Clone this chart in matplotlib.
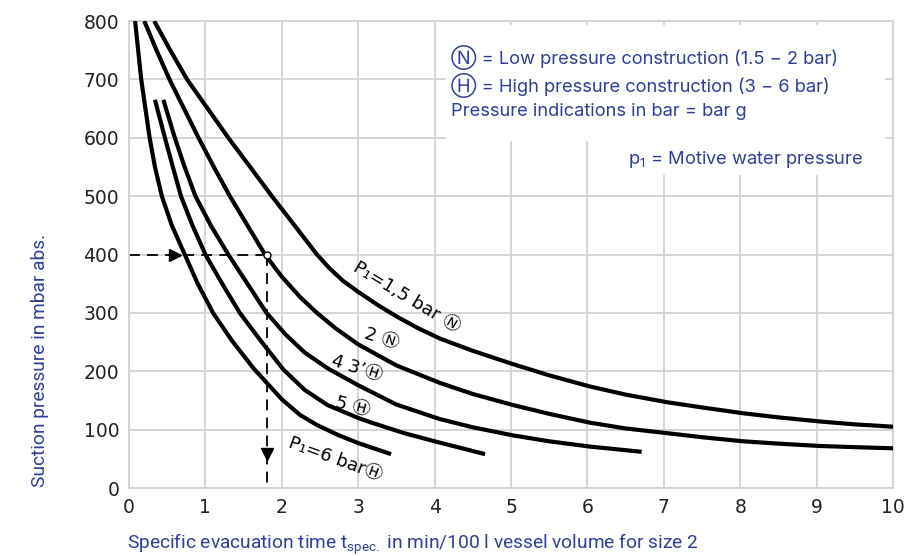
import matplotlib.pyplot as plt
from matplotlib.patches import Rectangle

BLUE = '#2f3f9a'
GRID = '#d2d2d2'

# ── curve data: specific evacuation time (min/100 l) vs suction pressure (mbar)
t_15 = [0.33, 0.54, 0.76, 1.03, 1.30, 1.58, 1.87, 2.16, 2.46, 2.62, 2.80, 3.00, 3.25, 3.50,
        3.78, 4.07, 4.50, 5.03, 5.50, 6.03, 6.50, 7.04, 7.50, 8.04, 8.50, 9.04, 9.50, 10.0]
p_15 = [800, 750, 700, 650, 600, 551, 500, 451, 400, 377, 355, 336, 314, 294,
        274, 256, 235, 212, 193, 174, 160, 147, 138, 128, 121, 114, 109, 105]

t_2 = [0.20, 0.36, 0.53, 0.72, 0.91, 1.11, 1.32, 1.55, 1.78, 2.00, 2.24, 2.46, 2.70, 3.00,
       3.50, 4.07, 4.50, 5.03, 5.50, 6.03, 6.50, 7.04, 7.50, 8.04, 8.50, 9.04, 9.50, 10.0]
p_2 = [800, 750, 700, 650, 600, 550, 500, 450, 400, 362, 327, 300, 274, 246,
       210, 180, 161, 142, 127, 112, 102, 94, 87, 80, 76, 72, 70, 68]

t_34 = [0.45, 0.60, 0.72, 0.87, 1.07, 1.30, 1.55, 1.80, 2.05, 2.30, 2.60, 3.00, 3.50,
        4.07, 4.50, 5.03, 5.50, 6.03, 6.71]
p_34 = [665, 600, 553, 500, 450, 400, 350, 300, 263, 232, 205, 176, 143,
        118, 104, 90, 80, 71, 62]

t_5 = [0.34, 0.47, 0.57, 0.68, 0.83, 1.00, 1.22, 1.45, 1.72, 2.02, 2.30, 2.60, 3.00,
       3.15, 3.60, 4.03, 4.66]
p_5 = [665, 600, 552, 500, 450, 400, 350, 300, 253, 203, 168, 142, 120,
       113, 94, 79, 58]

t_6 = [0.08, 0.16, 0.27, 0.34, 0.43, 0.56, 0.73, 0.90, 1.10, 1.35, 1.63, 2.00, 2.24,
       2.46, 2.75, 3.00, 3.43]
p_6 = [800, 700, 600, 550, 500, 450, 400, 350, 300, 252, 205, 152, 125,
       108, 90, 77, 58]

# reading example: 400 mbar -> 1.8 min/100 l
read_t, read_p = 1.8, 400

x_ticks = list(range(0, 11))
y_ticks = list(range(0, 900, 100))

fig = plt.figure(figsize=(9.2, 5.56), dpi=100)
ax = fig.add_axes([0.1402, 0.1223, 0.8305, 0.8399])
ax.set_xlim(0, 10)
ax.set_ylim(0, 800)
ax.set_xticks(x_ticks)
ax.set_yticks(y_ticks)
ax.tick_params(length=0, labelsize=13.5, colors='#222222', pad=7)
ax.grid(True, color=GRID, linewidth=1.3, zorder=0)
ax.set_axisbelow(True)
for sp in ax.spines.values():
    sp.set_color(GRID)
    sp.set_linewidth(1.3)

# white panels behind the notes
ax.add_patch(Rectangle((4.15, 594), 5.75, 200, facecolor='white', edgecolor='none', zorder=1))
ax.add_patch(Rectangle((6.10, 536), 3.80, 60, facecolor='white', edgecolor='none', zorder=1))

curve_kw = dict(color='black', linewidth=3.0, solid_capstyle='butt', solid_joinstyle='round', zorder=3)
for t, p in [(t_15, p_15), (t_2, p_2), (t_34, p_34), (t_5, p_5), (t_6, p_6)]:
    ax.plot(t, p, **curve_kw)

# dashed reading lines with arrows
dash_kw = dict(color='black', linewidth=1.3, dashes=(6, 4), zorder=2)
ax.plot([0, read_t], [read_p, read_p], **dash_kw)
ax.plot([read_t, read_t], [read_p, 0], **dash_kw)
ax.plot([0.6], [read_p], marker='>', markersize=8, color='black', zorder=4)
ax.plot([read_t], [58], marker='v', markersize=8, color='black', zorder=4)
ax.plot([read_t], [read_p], marker='o', markersize=5, markerfacecolor='white',
        markeredgecolor='black', markeredgewidth=1.0, zorder=5)

# curve labels
lab_font = ['DejaVu Sans', 'Noto Sans CJK JP']
ax.text(3.63, 326, 'P\u2081=1,5 bar \u24c3', rotation=-31, fontsize=13, family=lab_font,
        ha='center', va='center', zorder=4)
ax.text(3.31, 255, '2 \u24c3', rotation=-18, fontsize=13, family=lab_font,
        ha='center', va='center', zorder=4)
ax.text(2.98, 205, '4 3\u2019\u24bd', rotation=-18, fontsize=13, family=lab_font,
        ha='center', va='center', zorder=4)
ax.text(2.92, 140, '5 \u24bd', rotation=-15, fontsize=13, family=lab_font,
        ha='center', va='center', zorder=4)
ax.text(2.70, 50, 'P\u2081=6 bar\u24bd', rotation=-20, fontsize=13, family=lab_font,
        ha='center', va='center', zorder=4)

# notes
note_font = ['Inter', 'DejaVu Sans', 'Noto Sans CJK JP']
fig.text(451 / 920, 1 - 58 / 556, '\u24c3 = Low pressure construction (1.5 \u2212 2 bar)',
         color=BLUE, fontsize=13.2, family=note_font, va='center')
fig.text(451 / 920, 1 - 86 / 556, '\u24bd = High pressure construction (3 \u2212 6 bar)',
         color=BLUE, fontsize=13.2, family=note_font, va='center')
fig.text(451 / 920, 1 - 111 / 556, 'Pressure indications in bar = bar g',
         color=BLUE, fontsize=13.2, family=note_font, va='center')
fig.text(628 / 920, 1 - 160 / 556, r'p$_{\mathregular{1}}$ = Motive water pressure',
         color=BLUE, fontsize=13.2, family=note_font, va='center')

# axis titles
fig.text(127 / 920, 1 - 544 / 556,
         r'Specific evacuation time t$_{\mathregular{spec.}}$ in min/100 l vessel volume for size 2',
         color=BLUE, fontsize=13.8, family=['Roboto', 'DejaVu Sans'], va='center')
fig.text(40 / 920, 1 - 360 / 556, 'Suction pressure in mbar abs.', rotation=90,
         color=BLUE, fontsize=13.8, family=['Roboto', 'DejaVu Sans'], ha='center', va='center')

fig.savefig('out.png', dpi=100)
